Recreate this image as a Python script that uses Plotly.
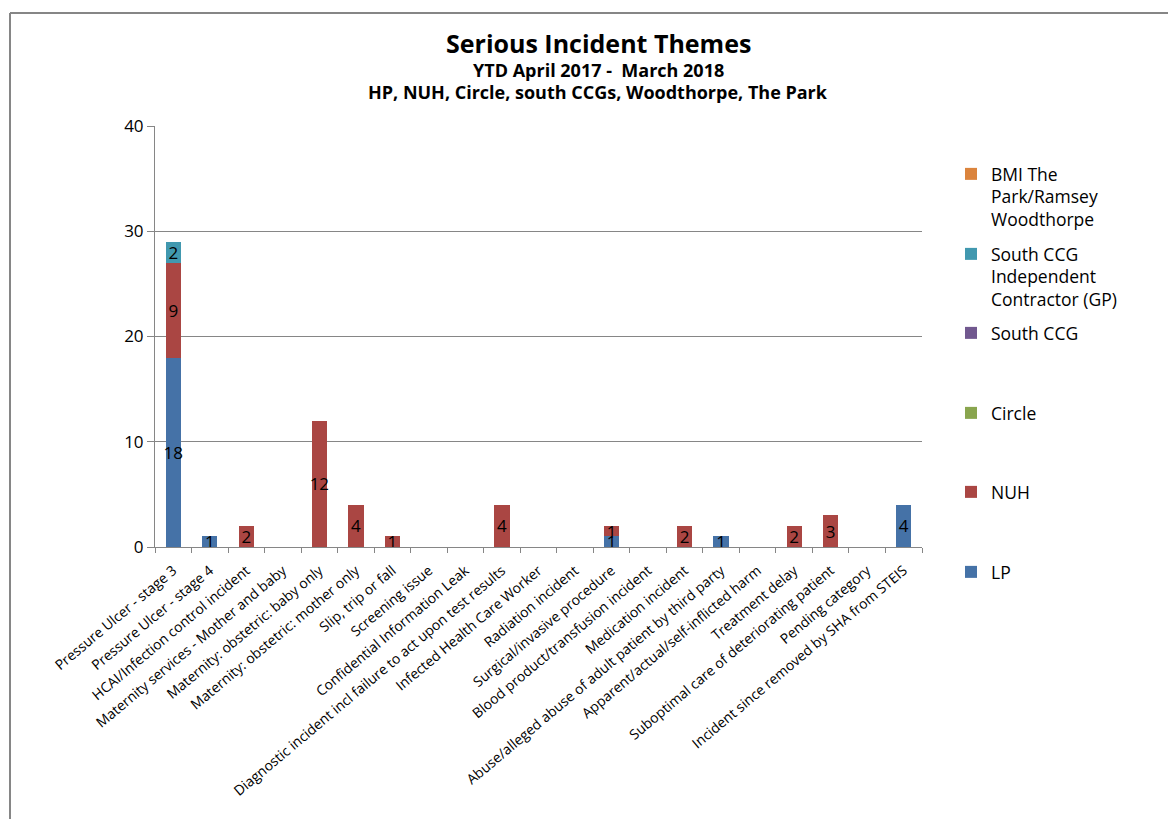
import plotly.graph_objects as go

# Incident themes (x-axis categories)
categories = [
    "Pressure Ulcer - stage 3",
    "Pressure Ulcer - stage 4",
    "HCAI/Infection control incident",
    "Maternity services - Mother and baby",
    "Maternity: obstetric: baby only",
    "Maternity: obstetric: mother only",
    "Slip, trip or fall",
    "Screening issue",
    "Confidential Information Leak",
    "Diagnostic incident incl failure to act upon test results",
    "Infected Health Care Worker",
    "Radiation incident",
    "Surgical/invasive procedure",
    "Blood product/transfusion incident",
    "Medication incident",
    "Abuse/alleged abuse of adult patient by third party",
    "Apparent/actual/self-inflicted harm",
    "Treatment delay",
    "Suboptimal care of deteriorating patient",
    "Pending category",
    "Incident since removed by SHA from STEIS",
]

# Incident counts per organisation
lp = [18, 1, 0, 0, 0, 0, 0, 0, 0, 0, 0, 0, 1, 0, 0, 1, 0, 0, 0, 0, 4]
nuh = [9, 0, 2, 0, 12, 4, 1, 0, 0, 4, 0, 0, 1, 0, 2, 0, 0, 2, 3, 0, 0]
circle = [0, 0, 0, 0, 0, 0, 0, 0, 0, 0, 0, 0, 0, 0, 0, 0, 0, 0, 0, 0, 0]
south_ccg = [0, 0, 0, 0, 0, 0, 0, 0, 0, 0, 0, 0, 0, 0, 0, 0, 0, 0, 0, 0, 0]
south_ccg_ic = [2, 0, 0, 0, 0, 0, 0, 0, 0, 0, 0, 0, 0, 0, 0, 0, 0, 0, 0, 0, 0]
bmi = [0, 0, 0, 0, 0, 0, 0, 0, 0, 0, 0, 0, 0, 0, 0, 0, 0, 0, 0, 0, 0]

series = [
    ("LP", lp, "#4572A7"),
    ("NUH", nuh, "#AA4643"),
    ("Circle", circle, "#89A54E"),
    ("South CCG", south_ccg, "#71588F"),
    ("South CCG<br>Independent<br>Contractor (GP)", south_ccg_ic, "#4198AF"),
    ("BMI The<br>Park/Ramsey<br>Woodthorpe", bmi, "#DB843D"),
]

FONT = "Open Sans"

# figure size and plot area in pixels
W, H = 1168, 819
L, R, T, B = 155, 922, 126, 547


def px_x(p):
    return (p - L) / (R - L)


def px_y(p):
    return (B - p) / (B - T)


# legend entries, top edge of each entry in pixels
legend_tops = {
    "BMI The<br>Park/Ramsey<br>Woodthorpe": 156,
    "South CCG<br>Independent<br>Contractor (GP)": 236,
    "South CCG": 315,
    "Circle": 395,
    "NUH": 474,
    "LP": 554,
}

fig = go.Figure()
layout_legends = {}
for i, (name, vals, color) in enumerate(series):
    key = "legend" if i == 0 else f"legend{i + 1}"
    fig.add_trace(go.Bar(
        x=categories,
        y=vals,
        name=name,
        showlegend=True,
        marker=dict(color=color, line=dict(width=0)),
        text=[str(v) if v else "" for v in vals],
        textposition="inside",
        insidetextanchor="middle",
        textangle=0,
        constraintext="none",
        textfont=dict(family=FONT, size=17, color="#000000"),
        legend=key,
        hoverinfo="x+y+name",
    ))
    layout_legends[key] = dict(
        xref="container", yref="container",
        x=951 / W, xanchor="left",
        y=1 - legend_tops[name] / H, yanchor="top",
        valign="top",
        visible=True,
        bgcolor="rgba(0,0,0,0)",
        font=dict(family=FONT, size=17.5, color="#000000"),
    )

fig.update_layout(
    width=W, height=H,
    barmode="stack",
    bargap=0.58,
    showlegend=True,
    paper_bgcolor="white",
    plot_bgcolor="white",
    margin=dict(l=L, r=W - R, t=T, b=H - B, autoexpand=False),
    font=dict(family=FONT, size=14, color="#000000"),
    **layout_legends,
)

fig.update_xaxes(
    type="category",
    tickangle=-40,
    tickfont=dict(family=FONT, size=14, color="#000000"),
    ticklabelstandoff=9,
    showline=True, linecolor="#868686", linewidth=1,
    ticks="outside", ticklen=5, tickcolor="#868686",
    tickson="boundaries",
    showgrid=False,
)
fig.update_yaxes(
    range=[0, 40], dtick=10,
    tickfont=dict(family=FONT, size=17, color="#000000"),
    showline=True, linecolor="#868686", linewidth=1,
    ticks="outside", ticklen=7, tickcolor="#868686",
    showgrid=True, gridcolor="#868686", gridwidth=1,
    zeroline=False,
)

# Chart titles
titles = [
    ("Serious Incident Themes", 25, 43),
    ("YTD April 2017 -  March 2018", 18, 70),
    ("HP, NUH, Circle, south CCGs, Woodthorpe, The Park", 18, 92),
]
for text, size, ypx in titles:
    fig.add_annotation(
        text=f"<b>{text}</b>", xref="paper", yref="paper",
        x=px_x(598), y=px_y(ypx), xanchor="center", yanchor="middle",
        showarrow=False, font=dict(family=FONT, size=size, color="#000000"),
    )

# Chart frame (top and left edges)
fig.add_shape(type="line", xref="paper", yref="paper",
              x0=px_x(10), x1=px_x(1175), y0=px_y(13), y1=px_y(13),
              line=dict(color="#868686", width=2))
fig.add_shape(type="line", xref="paper", yref="paper",
              x0=px_x(10), x1=px_x(10), y0=px_y(13), y1=px_y(830),
              line=dict(color="#868686", width=2))

fig.write_html("out.html")
